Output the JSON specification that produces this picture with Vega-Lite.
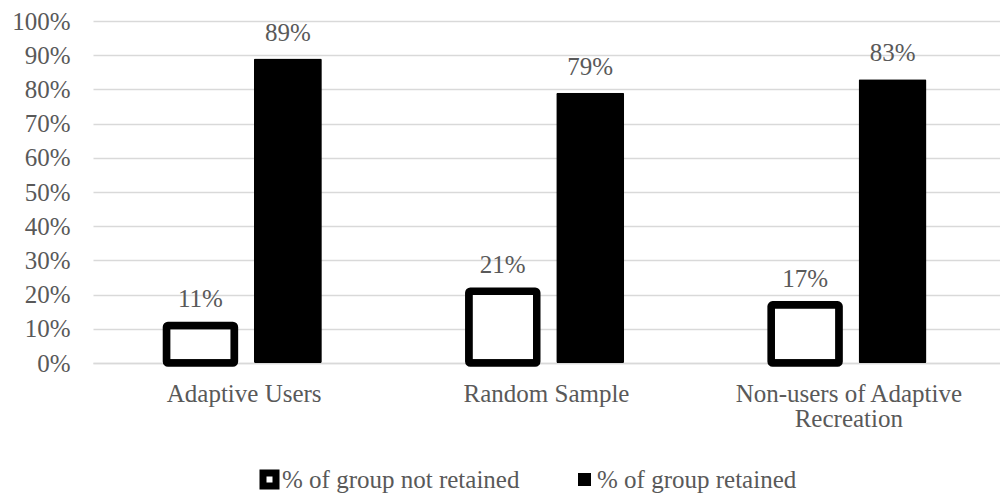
{
  "$schema": "https://vega.github.io/schema/vega-lite/v6.json",
  "autosize": {"type": "none"},
  "padding": {"left": 93, "top": 21, "right": 0, "bottom": 130},
  "width": 907,
  "height": 342,
  "background": "white",
  "config": {
    "font": "Liberation Serif",
    "view": {"stroke": null}
  },
  "data": {
    "values": [
      {"group": "Adaptive Users", "series": "% of group not retained", "value": 0.11},
      {"group": "Adaptive Users", "series": "% of group retained", "value": 0.89},
      {"group": "Random Sample", "series": "% of group not retained", "value": 0.21},
      {"group": "Random Sample", "series": "% of group retained", "value": 0.79},
      {"group": "Non-users of Adaptive Recreation", "series": "% of group not retained", "value": 0.17},
      {"group": "Non-users of Adaptive Recreation", "series": "% of group retained", "value": 0.83}
    ]
  },
  "encoding": {
    "x": {
      "field": "group", "type": "nominal", "sort": null,
      "scale": {"paddingInner": 0.486, "paddingOuter": 0.243},
      "axis": {
        "title": null, "labelAngle": 0, "labelFontSize": 25, "labelColor": "#595959",
        "labelPadding": 18, "labelBaseline": "top", "labelLineHeight": 25, "labelLimit": 500,
        "domainColor": "#d9d9d9", "domainWidth": 1.5, "ticks": false,
        "labelExpr": "datum.label == 'Non-users of Adaptive Recreation' ? ['Non-users of Adaptive', 'Recreation'] : datum.label"
      }
    },
    "xOffset": {
      "field": "series", "type": "nominal", "sort": null,
      "scale": {"paddingInner": 0.223, "paddingOuter": 0}
    },
    "y": {
      "field": "value", "type": "quantitative",
      "scale": {"domain": [0, 1]},
      "axis": {
        "title": null, "format": ".0%", "values": [0, 0.1, 0.2, 0.3, 0.4, 0.5, 0.6, 0.7, 0.8, 0.9, 1],
        "labelFontSize": 25, "labelColor": "#595959", "labelPadding": 23,
        "domain": false, "ticks": false, "gridColor": "#d9d9d9", "gridWidth": 1.5
      }
    }
  },
  "layer": [
    {
      "mark": {"type": "bar", "strokeWidth": 7.5, "cornerRadius": 1.5, "strokeJoin": "round"},
      "encoding": {
        "fill": {
          "field": "series", "type": "nominal",
          "scale": {"domain": ["% of group not retained", "% of group retained"], "range": ["#ffffff", "#000000"]},
          "legend": {
            "title": null, "orient": "none", "direction": "horizontal",
            "legendX": 164, "legendY": 446,
            "symbolType": "square", "symbolSize": 169, "symbolStrokeWidth": 7,
            "labelFontSize": 25, "labelColor": "#595959", "labelOffset": 0,
            "columnPadding": 44, "labelLimit": 400
          }
        },
        "stroke": {
          "field": "series", "type": "nominal",
          "scale": {"domain": ["% of group not retained", "% of group retained"], "range": ["#000000", "transparent"]},
          "legend": {
            "title": null, "orient": "none", "direction": "horizontal",
            "legendX": 164, "legendY": 446,
            "symbolType": "square", "symbolSize": 169, "symbolStrokeWidth": 7,
            "labelFontSize": 25, "labelColor": "#595959", "labelOffset": 0,
            "columnPadding": 44, "labelLimit": 400
          }
        }
      }
    },
    {
      "mark": {"type": "text", "baseline": "alphabetic", "dy": -18, "fontSize": 25, "color": "#595959"},
      "encoding": {
        "text": {"field": "value", "type": "quantitative", "format": ".0%"}
      }
    }
  ]
}
